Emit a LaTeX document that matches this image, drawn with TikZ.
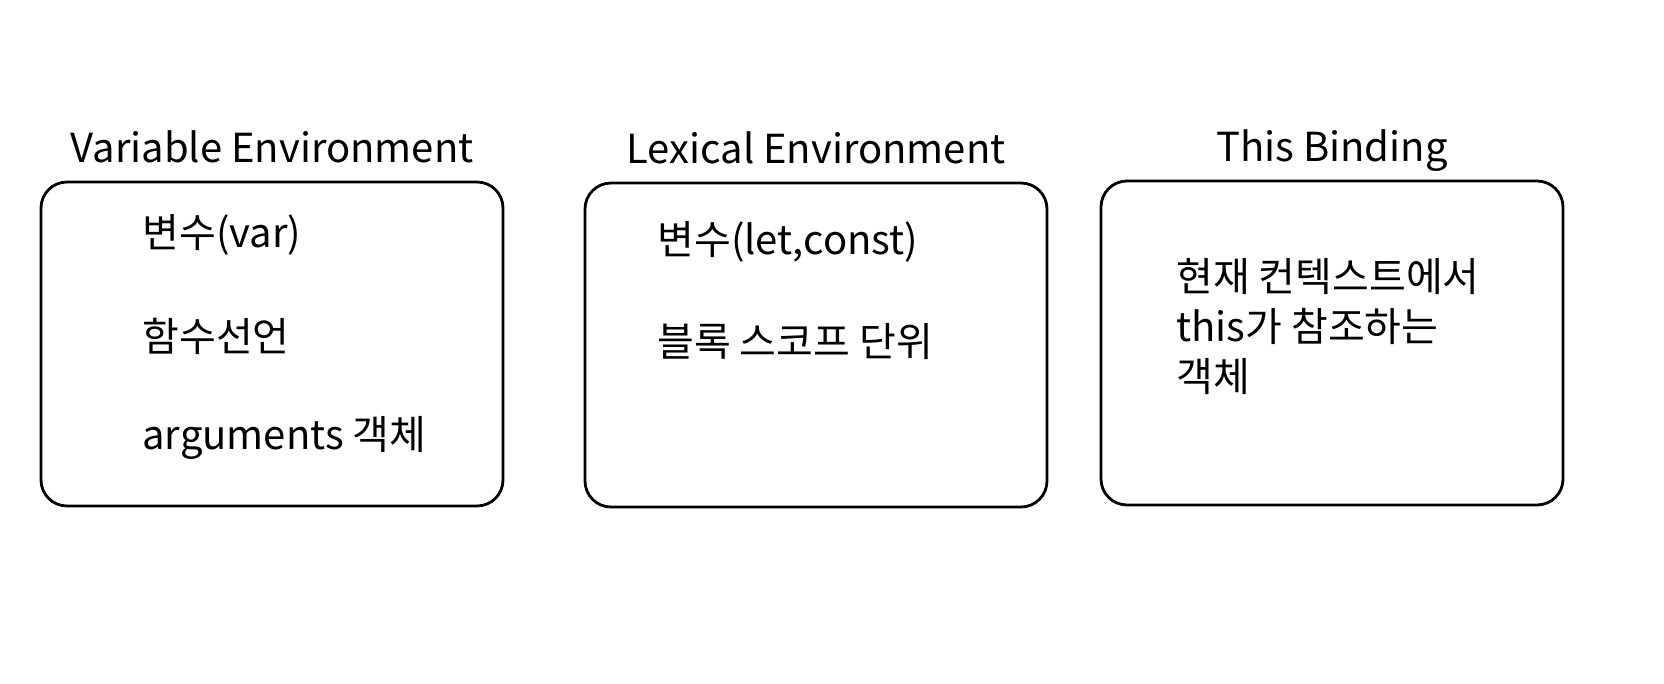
\documentclass[tikz,border=0pt]{standalone}
\usepackage{fontspec}
\setmainfont{Noto Sans CJK KR}
\usetikzlibrary{positioning}

\tikzset{
  envbox/.style={draw, line width=1.4pt, rounded corners=13pt,
    minimum width=231pt, minimum height=162pt, inner sep=0pt},
  envtitle/.style={font=\fontsize{20}{24}\selectfont, inner sep=0pt, text depth=0pt},
  envitem/.style={font=\fontsize{20}{25}\selectfont, anchor=west, inner sep=0pt}
}

\begin{document}
\begin{tikzpicture}[x=0.5pt, y=-0.5pt, node distance=9pt]
    \useasboundingbox (0,0) rectangle (1664,684);

    % the three boxes
    \node[envbox] (ve) at (272,344) {};
    \node[envbox] (le) at (816,345) {};
    \node[envbox] (tb) at (1332,343) {};

    % titles
    \node[envtitle] (vetitle) [above=of ve] {Variable Environment};
    \node[envtitle] (letitle) [above=of le] {Lexical Environment};
    \node[envtitle] (tbtitle) [above=of tb] {This Binding};

    % contents
    \node[envitem] (var)  at (142,235) {변수(var)};
    \node[envitem] (func) at (142,336) {함수선언};
    \node[envitem] (args) at (142,438) {arguments 객체};

    \node[envitem] (letconst) at (657,242) {변수(let,const)};
    \node[envitem] (block)    at (657,342) {블록 스코프 단위};

    \node[envitem, anchor=north west, align=left] (thisobj) at (1176,258)
        {현재 컨텍스트에서\\this가 참조하는\\객체};

\end{tikzpicture}
\end{document}
